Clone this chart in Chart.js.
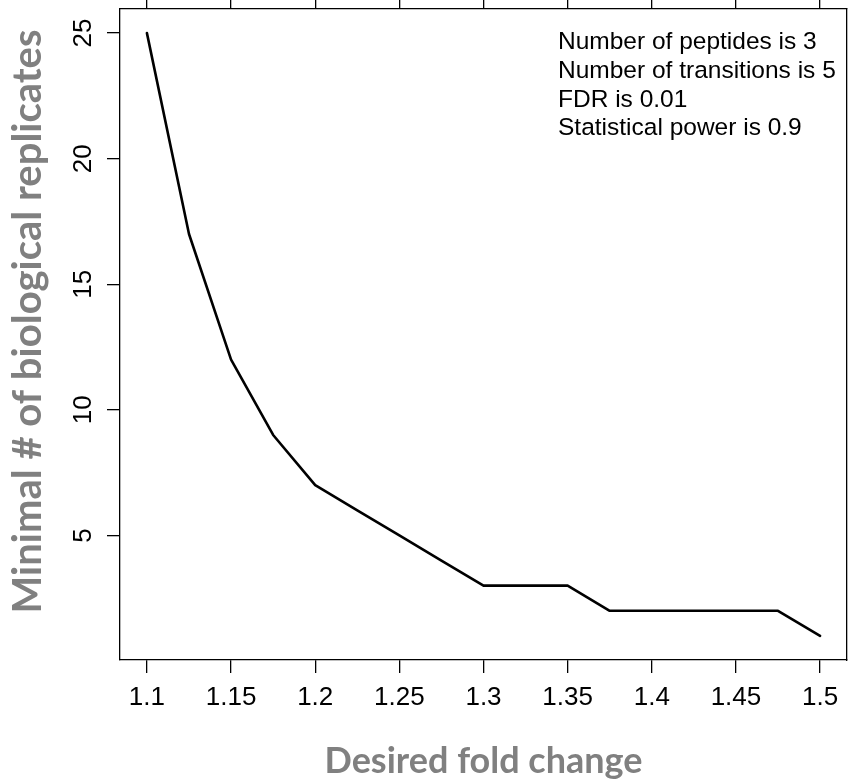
<!DOCTYPE html>
<html>
<head>
<meta charset="utf-8">
<script src="https://cdn.jsdelivr.net/npm/chart.js@4/dist/chart.umd.min.js"></script>
<style>
  html, body { margin: 0; padding: 0; background: #fff; }
  #wrap { width: 860px; height: 783px; }
</style>
</head>
<body>
<div id="wrap"><canvas id="chart" width="860" height="783"></canvas></div>
<script>
// Desired fold change vs. minimal number of biological replicates
const foldChange = [1.1, 1.125, 1.15, 1.175, 1.2, 1.225, 1.25, 1.275, 1.3, 1.325, 1.35, 1.375, 1.4, 1.425, 1.45, 1.475, 1.5];
const replicates = [25, 17, 12, 9, 7, 6, 5, 4, 3, 3, 3, 2, 2, 2, 2, 2, 1];

const xTicks = [1.1, 1.15, 1.2, 1.25, 1.3, 1.35, 1.4, 1.45, 1.5];
const xTickLabels = ['1.1', '1.15', '1.2', '1.25', '1.3', '1.35', '1.4', '1.45', '1.5'];
const yTicks = [5, 10, 15, 20, 25];
const yTickLabels = ['5', '10', '15', '20', '25'];

const xTitle = 'Desired fold change';
const yTitle = 'Minimal # of biological replicates';
const noteLines = [
  'Number of peptides is 3',
  'Number of transitions is 5',
  'FDR is 0.01',
  'Statistical power is 0.9'
];

// R-style padded ranges (4% either side of the data)
const xPad = (Math.max(...foldChange) - Math.min(...foldChange)) * 0.04;
const yPad = (Math.max(...replicates) - Math.min(...replicates)) * 0.04;
const xMin = Math.min(...foldChange) - xPad, xMax = Math.max(...foldChange) + xPad;
const yMin = Math.min(...replicates) - yPad, yMax = Math.max(...replicates) + yPad;

const tickFont = { family: '"Liberation Sans", Arial, Helvetica, sans-serif', size: 26 };
const titleFont = { family: 'Lato, "Open Sans", sans-serif', size: 36, weight: 'bold' };
const yTitleFont = 'bold 40px Lato, "Open Sans", sans-serif';
const titleColor = '#808080';
const boxWidth = 1.3;

function fixTicks(values) {
  return function (scale) { scale.ticks = values.map(v => ({ value: v })); };
}

// fixed axis thickness, no extra edge padding from rotated labels
function fixSize(prop, size) {
  return function (scale) {
    scale[prop] = size;
    scale.paddingTop = 0; scale.paddingBottom = 0;
    scale.paddingLeft = 0; scale.paddingRight = 0;
  };
}

const textPlugin = {
  id: 'extraText',
  afterDraw(chart) {
    const { ctx, chartArea } = chart;
    ctx.save();
    // parameter notes, upper right of the plot
    ctx.font = '24.5px "Liberation Sans", Arial, Helvetica, sans-serif';
    ctx.fillStyle = '#000';
    ctx.textAlign = 'left';
    ctx.textBaseline = 'alphabetic';
    const x0 = chartArea.left + 438;
    const y0 = chartArea.top + 40;
    noteLines.forEach((t, i) => ctx.fillText(t, x0, y0 + i * 28.8));
    // y axis title, rotated
    ctx.font = yTitleFont;
    ctx.fillStyle = titleColor;
    ctx.textAlign = 'center';
    ctx.textBaseline = 'alphabetic';
    ctx.translate(41, (chartArea.top + chartArea.bottom) / 2 - 13);
    ctx.rotate(-Math.PI / 2);
    ctx.fillText(yTitle, 0, 0);
    ctx.restore();
  }
};

new Chart(document.getElementById('chart'), {
  type: 'line',
  data: {
    datasets: [{
      data: foldChange.map((x, i) => ({ x: x, y: replicates[i] })),
      borderColor: '#000',
      borderWidth: 2.6,
      pointRadius: 0,
      tension: 0,
      fill: false,
      borderJoinStyle: 'round',
      borderCapStyle: 'round'
    }]
  },
  options: {
    responsive: false,
    animation: false,
    devicePixelRatio: 1,
    layout: { padding: { left: 0, right: 13, top: 0, bottom: 0 } },
    plugins: { legend: { display: false }, tooltip: { enabled: false } },
    scales: {
      x: {
        type: 'linear',
        position: 'bottom',
        min: xMin, max: xMax,
        afterBuildTicks: fixTicks(xTicks),
        afterFit: fixSize('height', 123),
        grid: { drawOnChartArea: false, drawTicks: true, tickLength: 13, color: '#000', lineWidth: boxWidth },
        border: { display: true, color: '#000', width: boxWidth },
        ticks: {
          autoSkip: false, maxRotation: 0, minRotation: 0, padding: 9,
          color: '#000', font: tickFont,
          callback: (v) => { const i = xTicks.indexOf(v); return i >= 0 ? xTickLabels[i] : ''; }
        },
        title: { display: true, text: xTitle, color: titleColor, font: titleFont, padding: { top: 0, bottom: 0 } }
      },
      xTop: {
        type: 'linear',
        position: 'top',
        min: xMin, max: xMax,
        afterBuildTicks: fixTicks(xTicks),
        afterFit: fixSize('height', 9),
        grid: { drawOnChartArea: false, drawTicks: true, tickLength: 13, color: '#000', lineWidth: boxWidth },
        border: { display: true, color: '#000', width: boxWidth },
        ticks: { display: false }
      },
      y: {
        type: 'linear',
        position: 'left',
        min: yMin, max: yMax,
        afterBuildTicks: fixTicks(yTicks),
        afterFit: fixSize('width', 120),
        grid: { drawOnChartArea: false, drawTicks: true, tickLength: 13, color: '#000', lineWidth: boxWidth },
        border: { display: true, color: '#000', width: boxWidth },
        ticks: {
          autoSkip: false, minRotation: 90, maxRotation: 90, crossAlign: 'center', padding: 9,
          color: '#000', font: tickFont,
          callback: (v) => { const i = yTicks.indexOf(v); return i >= 0 ? yTickLabels[i] : ''; }
        },
        title: { display: false, text: yTitle }
      },
      yRight: {
        type: 'linear',
        position: 'right',
        min: yMin, max: yMax,
        afterFit: fixSize('width', 0),
        grid: { display: false, drawTicks: false },
        border: { display: true, color: '#000', width: boxWidth },
        ticks: { display: false }
      }
    }
  },
  plugins: [textPlugin]
});
</script>
</body>
</html>
